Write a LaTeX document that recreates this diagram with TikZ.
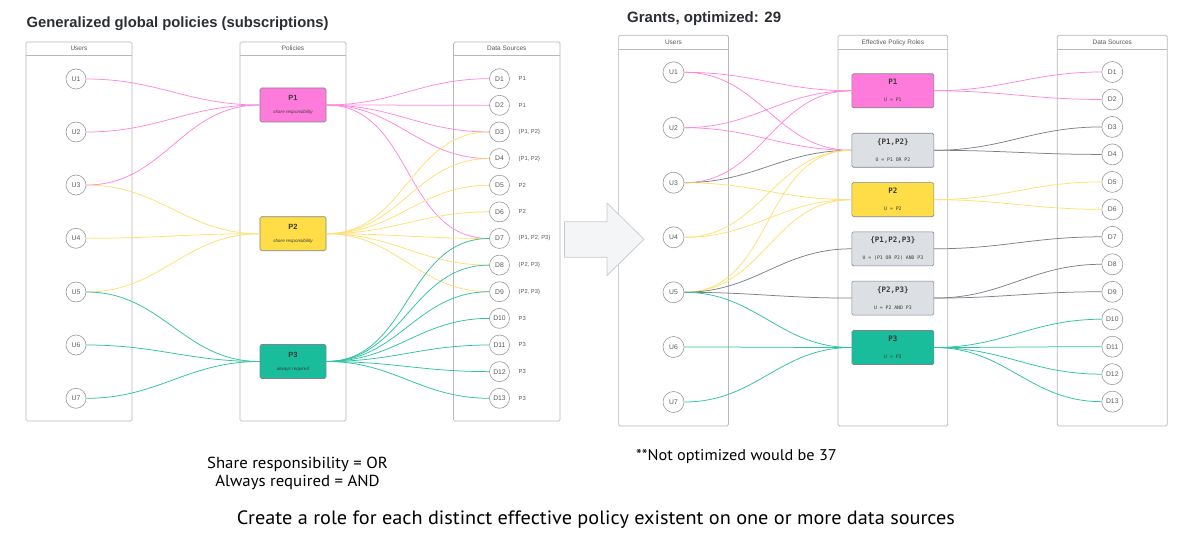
\documentclass[tikz,border=0pt]{standalone}
\usepackage{fontspec}
\setmainfont{Liberation Sans}
\newfontfamily\monof{DejaVu Sans Mono}
\newfontfamily\condf[FakeStretch=1.05]{PT Sans}
\definecolor{pk}{HTML}{FF7BDB}
\definecolor{pkl}{HTML}{FF88DF}
\definecolor{yl}{HTML}{FFDD47}
\definecolor{yll}{HTML}{FFE070}
\definecolor{tl}{HTML}{19BD9C}
\definecolor{tll}{HTML}{30C2A4}
\definecolor{gb}{HTML}{DCDFE3}
\definecolor{gbd}{HTML}{80858C}
\definecolor{gl}{HTML}{7C8188}
\definecolor{lanec}{HTML}{B8B8B8}
\definecolor{circc}{HTML}{9A9A9A}
\definecolor{txt}{HTML}{3A3A3A}
\definecolor{ltxt}{HTML}{5A5A5A}
\definecolor{arrf}{HTML}{F4F5F7}
\definecolor{arrd}{HTML}{C6CAD0}
\definecolor{ttl}{HTML}{2B2E33}
\tikzset{
  lanebox/.style={draw=lanec, line width=0.7pt, rounded corners=1.5pt},
  laneline/.style={draw=lanec, line width=0.7pt},
  lanelabel/.style={font=\fontsize{6.5}{7}\selectfont, text=ltxt, inner sep=0pt},
  ucirc/.style={circle, draw=circc, line width=0.6pt, fill=white, minimum size=20pt, inner sep=0pt, font=\fontsize{6.8}{7}\selectfont, text=ltxt},
  rcirc/.style={ucirc, minimum size=21pt},
  dlab/.style={anchor=west, font=\fontsize{5.8}{6}\selectfont, text=ltxt, inner sep=0pt},
  pbox/.style={rectangle, rounded corners=1.5pt, draw=gbd, line width=0.6pt, minimum width=66pt, minimum height=34pt, align=center, inner sep=0pt, text=txt},
  rbox/.style={pbox, minimum width=82pt},
  lk/.style={out=0, in=180, looseness=1.05, line width=0.75pt},
  pkline/.style={lk, draw=pkl},
  ylline/.style={lk, draw=yll},
  tlline/.style={lk, draw=tll},
  glline/.style={lk, draw=gl},
  ttlf/.style={font=\fontsize{14.8}{16}\selectfont\bfseries, text=ttl, anchor=base west, inner sep=0pt},
  bottxt/.style={font=\condf\fontsize{16}{18}\selectfont, text=black, inner sep=0pt, align=center},
}
\begin{document}
\begin{tikzpicture}[x=1pt, y=-1pt]
\useasboundingbox (0,0) rectangle (1182,540);
\fill[white] (0,0) rectangle (1182,540);

% ---------- Titles ----------
\node[ttlf] (t1) at (26.5,28) {Generalized global policies (subscriptions)};
\node[ttlf, font=\fontsize{15}{16}\selectfont\bfseries] (t2) at (627,22.5) {Grants, optimized: 29};

% ---------- Left lanes ----------
\draw[lanebox] (26,42) rectangle (132,421);
\draw[laneline] (26,55.3) -- (132,55.3);
\node[lanelabel] (lh1) at (79,48.6) {Users};
\draw[lanebox] (240,42) rectangle (346,421);
\draw[laneline] (240,55.3) -- (346,55.3);
\node[lanelabel] (lh2) at (293,48.6) {Policies};
\draw[lanebox] (453.5,42) rectangle (560,421);
\draw[laneline] (453.5,55.3) -- (560,55.3);
\node[lanelabel] (lh3) at (506.75,48.6) {Data Sources};

% ---------- Right lanes ----------
\draw[lanebox] (618.6,35.3) rectangle (728.4,426);
\draw[laneline] (618.6,49.7) -- (728.4,49.7);
\node[lanelabel] (rh1) at (673.5,42.5) {Users};
\draw[lanebox] (838,35.3) rectangle (947.8,426);
\draw[laneline] (838,49.7) -- (947.8,49.7);
\node[lanelabel] (rh2) at (892.9,42.5) {Effective Policy Roles};
\draw[lanebox] (1057.3,35.3) rectangle (1167.2,426);
\draw[laneline] (1057.3,49.7) -- (1167.2,49.7);
\node[lanelabel] (rh3) at (1112.3,42.5) {Data Sources};

% ---------- Big arrow ----------
\draw[fill=arrf, draw=arrd, line width=0.7pt, line join=round]
  (564.5,221.7) -- (607,221.7) -- (607,203) -- (644,239.3) -- (607,275.5) -- (607,257.3) -- (564.5,257.3) -- cycle;

% ---------- Left nodes ----------
\foreach \i/\y in {1/79,2/132,3/185,4/238.3,5/292,6/345,7/398.3}
  \node[ucirc] (lu\i) at (76,\y) {U\i};
\foreach \i in {1,...,13}
  \node[ucirc] (ld\i) at (499.5,{78.7+26.63*(\i-1)}) {D\i};
\foreach \i/\t in {1/P1,2/P1,3/{\{P1, P2\}},4/{\{P1, P2\}},5/P2,6/P2,7/{\{P1, P2, P3\}},8/{\{P2, P3\}},9/{\{P2, P3\}},10/P3,11/P3,12/P3,13/P3}
  \node[dlab] (dl\i) at (518.5,{78.7+26.63*(\i-1)}) {\t};

\node[pbox, fill=pk] (lp1) at (293,105) {{\fontsize{7.5}{8}\selectfont\bfseries P1}\\[1pt]{\fontsize{4.6}{5}\selectfont\itshape share responsibility}};
\node[pbox, fill=yl] (lp2) at (293,233.7) {{\fontsize{7.5}{8}\selectfont\bfseries P2}\\[1pt]{\fontsize{4.6}{5}\selectfont\itshape share responsibility}};
\node[pbox, fill=tl] (lp3) at (293,361.5) {{\fontsize{7.5}{8}\selectfont\bfseries P3}\\[1pt]{\fontsize{4.6}{5}\selectfont\itshape always required}};

% ---------- Left edges ----------
\foreach \u in {1,2,3} \draw[pkline] (lu\u.east) to (lp1.west);
\foreach \u in {3,4,5} \draw[ylline] (lu\u.east) to (lp2.west);
\foreach \u in {5,6,7} \draw[tlline] (lu\u.east) to (lp3.west);
\foreach \d in {1,2,3,4,7} \draw[pkline] (lp1.east) to (ld\d.west);
\foreach \d in {3,4,5,6,7,8,9} \draw[ylline] (lp2.east) to (ld\d.west);
\foreach \d in {7,8,9,10,11,12,13} \draw[tlline] (lp3.east) to (ld\d.west);

% ---------- Right nodes ----------
\foreach \i/\y in {1/72.3,2/127.7,3/182.7,4/237.3,5/292.3,6/347,7/402}
  \node[rcirc] (ru\i) at (673.5,\y) {U\i};
\foreach \i in {1,...,13}
  \node[rcirc] (rd\i) at (1112.3,{72+27.47*(\i-1)}) {D\i};

\node[rbox, fill=pk] (r1) at (892.9,90.8) {{\monof\fontsize{7.5}{8}\selectfont\bfseries P1}\\[5pt]{\monof\fontsize{4.8}{5}\selectfont U = P1}};
\node[rbox, fill=gb] (r12) at (892.9,150.3) {{\monof\fontsize{7.5}{8}\selectfont\bfseries \{P1,P2\}}\\[5pt]{\monof\fontsize{4.8}{5}\selectfont U = P1 OR P2}};
\node[rbox, fill=yl] (r2) at (892.9,199.7) {{\monof\fontsize{7.5}{8}\selectfont\bfseries P2}\\[5pt]{\monof\fontsize{4.8}{5}\selectfont U = P2}};
\node[rbox, fill=gb] (r123) at (892.9,248.8) {{\monof\fontsize{7.5}{8}\selectfont\bfseries \{P1,P2,P3\}}\\[5pt]{\monof\fontsize{4.8}{5}\selectfont U = (P1 OR P2) AND P3}};
\node[rbox, fill=gb] (r23) at (892.9,298.1) {{\monof\fontsize{7.5}{8}\selectfont\bfseries \{P2,P3\}}\\[5pt]{\monof\fontsize{4.8}{5}\selectfont U = P2 AND P3}};
\node[rbox, fill=tl] (r3) at (892.9,347.5) {{\monof\fontsize{7.5}{8}\selectfont\bfseries P3}\\[5pt]{\monof\fontsize{4.8}{5}\selectfont U = P3}};

% ---------- Right edges ----------
\foreach \u in {1,2,3} \draw[pkline] (ru\u.east) to (r1.west);
\foreach \u in {1,2} \draw[pkline] (ru\u.east) to (r12.west);
\draw[glline] (ru3.east) to (r12.west);
\foreach \u in {4,5} \draw[ylline] (ru\u.east) to (r12.west);
\foreach \u in {3,4,5} \draw[ylline] (ru\u.east) to (r2.west);
\draw[glline] (ru5.east) to (r123.west);
\draw[glline] (ru5.east) to (r23.west);
\foreach \u in {5,6,7} \draw[tlline] (ru\u.east) to (r3.west);
\foreach \d in {1,2} \draw[pkline] (r1.east) to (rd\d.west);
\foreach \d in {3,4} \draw[glline] (r12.east) to (rd\d.west);
\foreach \d in {5,6} \draw[ylline] (r2.east) to (rd\d.west);
\draw[glline] (r123.east) to (rd7.west);
\foreach \d in {8,9} \draw[glline] (r23.east) to (rd\d.west);
\foreach \d in {10,11,12,13} \draw[tlline] (r3.east) to (rd\d.west);

% ---------- Bottom texts ----------
\node[bottxt] (n1) at (297.5,473) {Share responsibility = OR\\Always required = AND};
\node[bottxt, anchor=west, font=\condf\fontsize{15.5}{18}\selectfont] (n2) at (636,457) {**Not optimized would be 37};
\node[bottxt, font=\condf\fontsize{19.3}{20}\selectfont] (n3) at (596,520) {Create a role for each distinct effective policy existent on one or more data sources};
\end{tikzpicture}
\end{document}
